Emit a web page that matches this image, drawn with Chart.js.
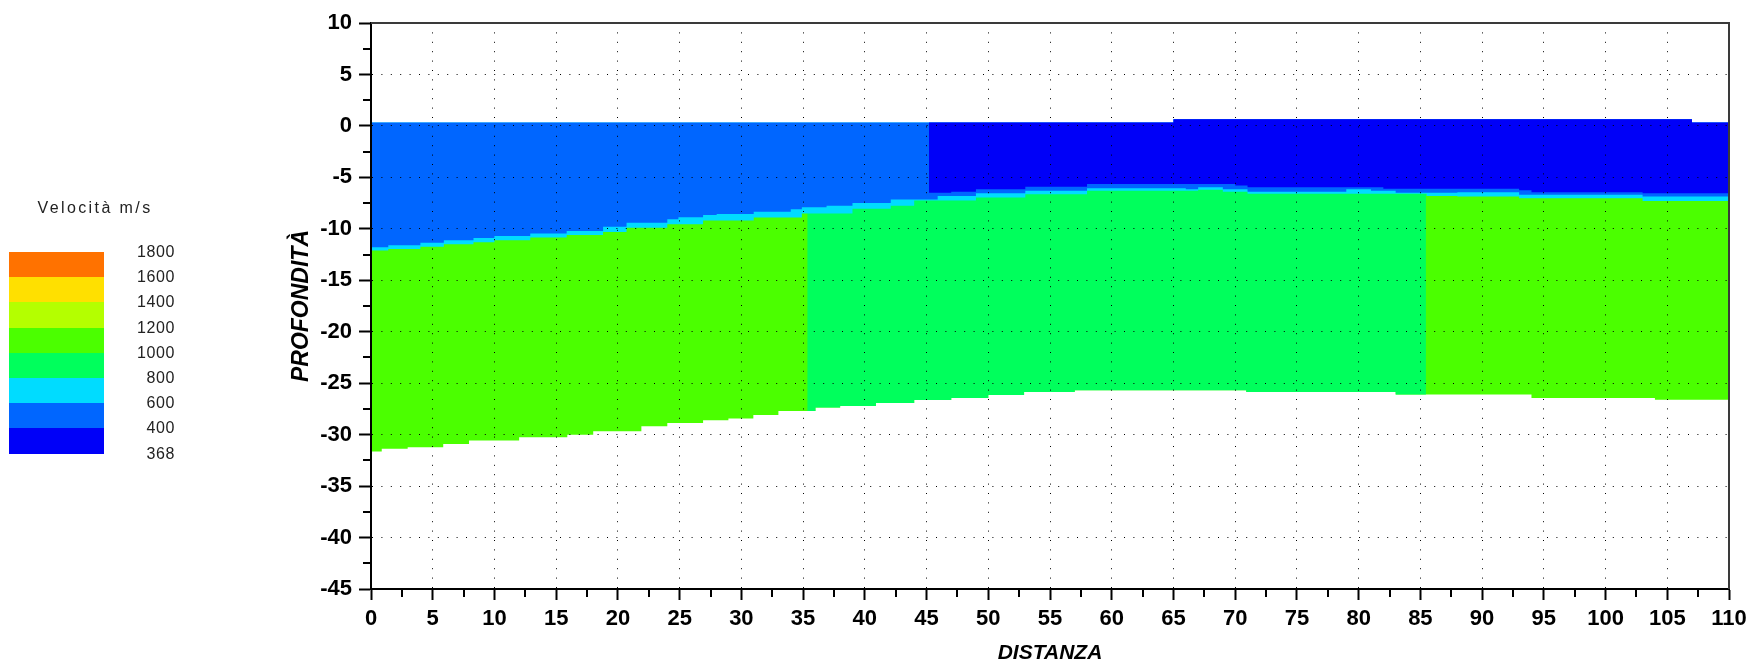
<!DOCTYPE html>
<html>
<head>
<meta charset="utf-8">
<title>Sezione sismica</title>
<script src="https://cdn.jsdelivr.net/npm/chart.js@4/dist/chart.umd.min.js"></script>
<style>
  html, body { margin: 0; padding: 0; background: #fff; }
  #wrap { position: relative; width: 1753px; height: 669px; overflow: hidden; }
  #c { position: absolute; left: 0; top: 0; }
  #legend { position: absolute; left: 0; top: 0; width: 260px; height: 669px;
            font-family: 'Liberation Sans', Arial, sans-serif; color: #222; }
  #legend .title { position: absolute; left: 0; width: 190px; top: 200px; text-align: center;
                   font-size: 16px; line-height: 16px; letter-spacing: 2.4px; white-space: nowrap; }
  #legend .band { position: absolute; left: 9px; width: 95px; }
  #legend .lab { position: absolute; left: 0; width: 175px; text-align: right;
                 font-size: 16px; line-height: 16px; letter-spacing: 0.6px; }
</style>
</head>
<body>
<div id="wrap">
  <canvas id="c" width="1753" height="669"></canvas>
  <div id="legend"></div>
</div>
<script>
// Axis ranges (metres)
const distMin = 0, distMax = 110, distStep = 5;
const depthMin = -45, depthMax = 10, depthStep = 5;

// Ground surface: step breakpoints along the line and the elevation of each step
const surfaceX = [0, 65, 107, 110];
const surfaceY = [0.32, 0.65, 0.32];

// Base of the 400-600 m/s layer (top of the 600-800 m/s transition)
const cyanTopX = [0, 1.4, 4.0, 5.9, 8.3, 10.0, 12.9, 15.85, 18.8, 20.7, 24.0, 24.9, 26.9, 28.0, 31.0, 34.0, 34.9, 36.9, 39.0, 42.1,
                  45.9, 49, 53, 58, 66, 67, 69, 71, 79, 81, 83, 88, 93, 103, 110];
const cyanTopY = [-11.8, -11.6, -11.35, -11.1, -10.9, -10.7, -10.45, -10.2, -9.8, -9.4, -9.07, -8.88, -8.65, -8.55, -8.33, -8.1, -7.9, -7.77, -7.5, -7.15,
                  -6.8, -6.55, -6.3, -6.05, -6.15, -5.95, -6.15, -6.4, -6.15, -6.3, -6.5, -6.45, -6.7, -6.87];

// Top of the 800-1200 m/s layer
const greenTopX = [0, 1.4, 4.0, 5.9, 8.3, 10.0, 12.9, 15.85, 18.8, 20.7, 24.0, 26.9, 31.0, 34.9, 39.0, 42.1, 44, 49, 53, 58,
                   67, 69, 71, 85.5, 88, 93, 103, 110];
const greenTopY = [-12.1, -11.95, -11.75, -11.5, -11.3, -11.1, -10.85, -10.6, -10.3, -9.9, -9.55, -9.2, -8.9, -8.5, -8.05, -7.75, -7.25, -6.95, -6.65, -6.3,
                   -6.2, -6.4, -6.6, -6.8, -6.87, -7.03, -7.29];

// Base of the 368-400 m/s layer
const darkBaseX = [45.2, 47, 49, 53, 58, 70, 71, 82, 93, 94, 103, 110];
const darkBaseY = [-6.5, -6.4, -6.15, -5.9, -5.65, -5.8, -5.95, -6.1, -6.25, -6.45, -6.55];

// Bottom of the investigated section
const baseX = [0, 0.87, 2.97, 5.85, 7.94, 12.0, 15.9, 18.0, 21.9, 24.0, 26.9, 28.95, 30.97, 33.0, 36.0, 38.0, 40.9, 44.0, 47.0, 50.0,
               52.9, 57.0, 70.9, 83.0, 94.0, 104.0, 110];
const baseY = [-31.65, -31.36, -31.23, -30.9, -30.58, -30.26, -30.0, -29.67, -29.19, -28.86, -28.6, -28.44, -28.1, -27.7, -27.37, -27.21, -26.92, -26.63, -26.43, -26.14,
               -25.85, -25.69, -25.85, -26.1, -26.43, -26.6];

// Lateral limits of zones
const darkFrom = 45.2;
const midGreenFrom = 35.35, midGreenTo = 85.45;

// Colour scale
const legendTitle = 'Velocità m/s';
const legendLabels = ['1800', '1600', '1400', '1200', '1000', '800', '600', '400', '368'];
const legendColors = ['#FF7200', '#FFE000', '#B4FF00', '#4BFF00', '#00FF5C', '#00DCFF', '#0066FF', '#0000F8'];

const FONT = "'Liberation Sans', Arial, sans-serif";

// ---- legend (colour bar) ----
(function buildLegend() {
  const box = document.getElementById('legend');
  const t = document.createElement('div');
  t.className = 'title';
  t.textContent = legendTitle;
  box.appendChild(t);
  const bandTop = 252, bandH = 25.2;
  legendColors.forEach((col, i) => {
    const b = document.createElement('div');
    b.className = 'band';
    const y0 = Math.round(bandTop + i * bandH), y1 = Math.round(bandTop + (i + 1) * bandH);
    b.style.top = y0 + 'px';
    b.style.height = (y1 - y0) + 'px';
    b.style.background = col;
    box.appendChild(b);
  });
  // labels sit on the band edges
  legendLabels.forEach((txt, i) => {
    const l = document.createElement('div');
    l.className = 'lab';
    l.style.top = Math.round(bandTop + i * bandH - 8) + 'px';
    l.textContent = txt;
    box.appendChild(l);
  });
})();

// ---- polygons built from step boundaries ----
function stepPath(xs, ys, a, b) {
  const pts = [];
  for (let i = 0; i < ys.length; i++) {
    const x0 = Math.max(xs[i], a), x1 = Math.min(xs[i + 1], b);
    if (x1 <= x0) continue;
    pts.push({ x: x0, y: ys[i] }, { x: x1, y: ys[i] });
  }
  return pts;
}
function zone(topX, topY, botX, botY, a, b) {
  return stepPath(topX, topY, a, b).concat(stepPath(botX, botY, a, b).reverse());
}
function layer(label, data, color, order) {
  return {
    label, data, order,
    backgroundColor: color,
    borderWidth: 0,
    pointRadius: 0,
    fill: 'shape',
    tension: 0
  };
}

const datasets = [
  layer('1000-1200', zone(cyanTopX, cyanTopY, baseX, baseY, distMin, distMax), legendColors[3], 5),
  layer('800-1000', zone(cyanTopX, cyanTopY, baseX, baseY, midGreenFrom, midGreenTo), legendColors[4], 4),
  layer('600-800', zone(surfaceX, surfaceY, greenTopX, greenTopY, distMin, distMax), legendColors[5], 3),
  layer('400-600', zone(surfaceX, surfaceY, cyanTopX, cyanTopY, distMin, distMax), legendColors[6], 2),
  layer('368-400', zone(surfaceX, surfaceY, darkBaseX, darkBaseY, darkFrom, distMax), legendColors[7], 1)
];

// Minor ticks and the upper/right frame of the plot
const axisDecor = {
  id: 'axisDecor',
  afterDraw(chart) {
    const { ctx, chartArea: a, scales: { x, y } } = chart;
    ctx.save();
    ctx.strokeStyle = '#000';
    ctx.lineWidth = 2;
    ctx.beginPath();
    for (let v = depthMin + depthStep / 2; v < depthMax; v += depthStep) {
      const py = Math.round(y.getPixelForValue(v));
      ctx.moveTo(a.left - 8, py); ctx.lineTo(a.left, py);
    }
    for (let v = distMin + distStep / 2; v < distMax; v += distStep) {
      const px = Math.round(x.getPixelForValue(v));
      ctx.moveTo(px, a.bottom); ctx.lineTo(px, a.bottom + 8);
    }
    ctx.stroke();
    ctx.strokeStyle = '#3a3a3a';
    ctx.beginPath();
    ctx.moveTo(Math.round(a.left), Math.round(a.top));
    ctx.lineTo(Math.round(a.right), Math.round(a.top));
    ctx.lineTo(Math.round(a.right), Math.round(a.bottom));
    ctx.stroke();
    ctx.restore();
  }
};

const tickFont = { family: FONT, size: 22, weight: 'bold' };
const xTitleFont = { family: FONT, size: 21, weight: 'bold', style: 'italic' };
const yTitleFont = { family: FONT, size: 23, weight: 'bold', style: 'italic' };

new Chart(document.getElementById('c'), {
  type: 'line',
  data: { datasets },
  plugins: [axisDecor],
  options: {
    responsive: false,
    animation: false,
    devicePixelRatio: 1,
    events: [],
    layout: { padding: { left: 270, right: 24, top: 23, bottom: 0 } },
    plugins: { legend: { display: false }, tooltip: { enabled: false } },
    scales: {
      x: {
        type: 'linear', min: distMin, max: distMax,
        afterFit: s => { s.height = 80; },
        ticks: { stepSize: distStep, color: '#000', font: tickFont, padding: 6, maxRotation: 0, autoSkip: false, z: 1 },
        grid: {
          z: 1, lineWidth: 1, tickLength: 11, tickWidth: 2, tickColor: '#000',
          color: c => (c.tick && (c.tick.value === distMin || c.tick.value === distMax)) ? 'rgba(0,0,0,0)' : '#000'
        },
        border: { display: true, color: '#000', width: 2, dash: [1, 8.4], z: 1 },
        title: { display: true, text: 'DISTANZA', color: '#000', font: xTitleFont, padding: { top: 0, bottom: 3 } }
      },
      y: {
        type: 'linear', min: depthMin, max: depthMax,
        afterFit: s => { s.width = 101; },
        ticks: { stepSize: depthStep, color: '#000', font: tickFont, padding: 7, z: 1 },
        grid: {
          z: 1, lineWidth: 1, tickLength: 12, tickWidth: 2, tickColor: '#000',
          color: c => (c.tick && (c.tick.value === depthMin || c.tick.value === depthMax)) ? 'rgba(0,0,0,0)' : '#000'
        },
        border: { display: true, color: '#000', width: 2, dash: [1, 8.4], z: 1 },
        title: { display: true, text: 'PROFONDITÀ', color: '#000', font: yTitleFont, padding: { top: 18, bottom: 0 } }
      }
    }
  }
});
</script>
</body>
</html>
